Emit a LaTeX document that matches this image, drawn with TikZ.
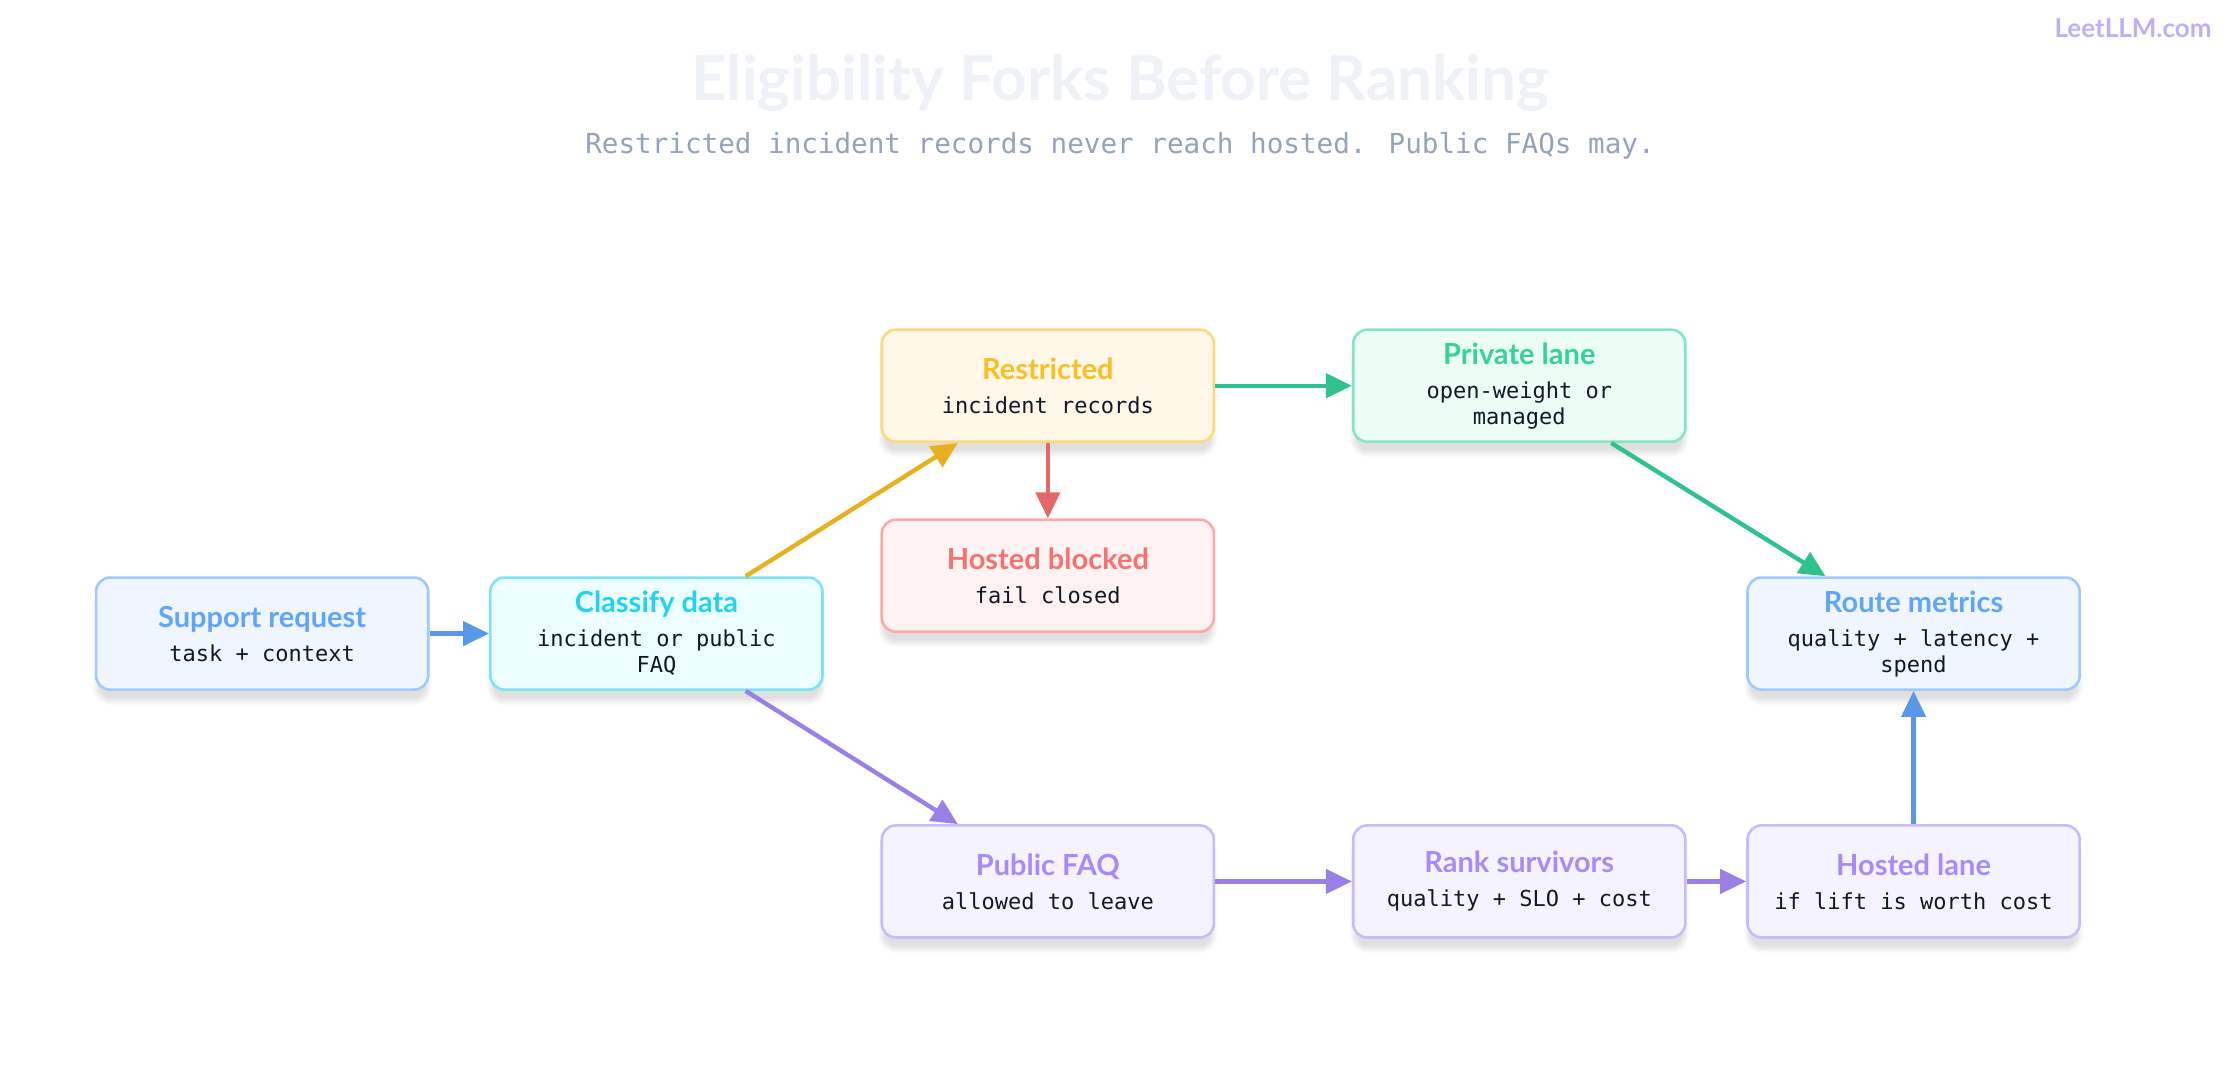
\documentclass[tikz,border=0pt]{standalone}
\usepackage{fontspec}
\setmainfont{Lato}
\newfontfamily\monofont{DejaVu Sans Mono}
\newfontfamily\headfont{Lato}
\usetikzlibrary{arrows.meta,shadows.blur}

\definecolor{blueln}{HTML}{60A5FA}\definecolor{bluebg}{HTML}{EFF6FF}
\definecolor{cyanln}{HTML}{22D3EE}\definecolor{cyanbg}{HTML}{ECFEFF}
\definecolor{ambln}{HTML}{FBBF24}\definecolor{ambbg}{HTML}{FFF7E8}
\definecolor{redln}{HTML}{F87171}\definecolor{redbg}{HTML}{FEF2F2}
\definecolor{grnln}{HTML}{34D399}\definecolor{grnbg}{HTML}{ECFDF5}
\definecolor{purln}{HTML}{A78BFA}\definecolor{purbg}{HTML}{F5F3FF}
\definecolor{inkc}{HTML}{111827}
\definecolor{subc}{HTML}{94A3B8}
\definecolor{titc}{HTML}{EEF2F7}

\newcommand{\boxtext}[3]{\textcolor{#1}{\headfont\fontsize{14.5pt}{17pt}\selectfont\bfseries #2}\\[4pt]#3}

\begin{document}
\begin{tikzpicture}[x=0.714pt, y=-0.714pt, >={Triangle[length=13pt,width=12pt]},
  box/.style={draw=#1ln!60, fill=#1bg, line width=1.3pt, rounded corners=7pt,
    minimum width=166pt, minimum height=56pt, align=center, text=inkc,
    font=\monofont\fontsize{11pt}{13pt}\selectfont,
    blur shadow={shadow blur steps=8, shadow xshift=0pt, shadow yshift=-6pt, shadow opacity=12}},
  link/.style={->, line width=2.2pt, draw=#1ln!92!black}]

  \useasboundingbox (0,0) rectangle (1568,756);

  % heading
  \node[text=titc, font=\fontsize{31pt}{36pt}\selectfont\bfseries] (title) at (784,58) {Eligibility Forks Before Ranking};
  \node[text=subc, font=\monofont\fontsize{13.8pt}{16pt}\selectfont] (sub) at (784,102) {Restricted incident records never reach hosted. Public FAQs may.};
  \node[text=purln!70, font=\fontsize{13pt}{15pt}\selectfont\bfseries, anchor=east] (mark) at (1553,20) {LeetLLM.com};

  % boxes
  \node[box=blue] (req) at (183.5,443.5) {\boxtext{blueln}{Support request}{task + context}};
  \node[box=cyan] (cls) at (459.5,443.5) {\boxtext{cyanln}{Classify data}{incident or public\\FAQ}};
  \node[box=amb] (rst) at (733.5,270) {\boxtext{ambln}{Restricted}{incident records}};
  \node[box=red] (blk) at (733.5,403) {\boxtext{redln}{Hosted blocked}{fail closed}};
  \node[box=grn] (prv) at (1063.5,270) {\boxtext{grnln}{Private lane}{open-weight or\\managed}};
  \node[box=blue] (met) at (1339.5,443.5) {\boxtext{blueln}{Route metrics}{quality + latency +\\spend}};
  \node[box=pur] (faq) at (733.5,617) {\boxtext{purln}{Public FAQ}{allowed to leave}};
  \node[box=pur] (rnk) at (1063.5,617) {\boxtext{purln}{Rank survivors}{quality + SLO + cost}};
  \node[box=pur] (hst) at (1339.5,617) {\boxtext{purln}{Hosted lane}{if lift is worth cost}};

  % connectors
  \draw[link=blue] (req) -- (cls);
  \draw[link=amb] ([xshift=44.6pt]cls.north) -- ([xshift=-45pt]rst.south);
  \draw[link=pur] ([xshift=44.6pt]cls.south) -- ([xshift=-45pt]faq.north);
  \draw[link=red] (rst) -- (blk);
  \draw[link=grn] (rst) -- (prv);
  \draw[link=grn] ([xshift=46pt]prv.south) -- ([xshift=-44pt]met.north);
  \draw[link=pur] (faq) -- (rnk);
  \draw[link=pur] (rnk) -- (hst);
  \draw[link=blue] (hst) -- (met);

\end{tikzpicture}
\end{document}
